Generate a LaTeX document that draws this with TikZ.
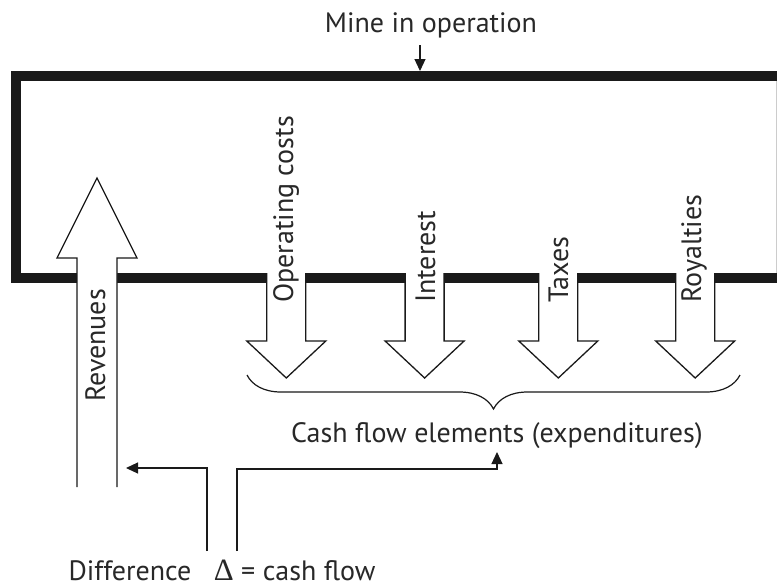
\documentclass[tikz,border=0pt]{standalone}
\usepackage{fontspec}
\setmainfont{PT Sans}
\newfontfamily\deltafont{Liberation Serif}
\usepackage{tikz}
\usetikzlibrary{arrows.meta}
\usetikzlibrary{decorations.pathreplacing}
\usepackage{xcolor}
\definecolor{ColInk}{RGB}{26,26,26}
\definecolor{ColText}{RGB}{40,40,40}
\tikzstyle{LabelText}=[inner sep=0pt,text=ColText,font=\fontsize{28}{31}\selectfont]
\tikzstyle{UpLabel}=[LabelText,rotate=90,anchor=base west]
\tikzstyle{WallLine}=[ColInk,line width=10pt,line join=miter]
\tikzstyle{BlockArrow}=[draw=ColInk,fill=white,line width=1.3pt,line join=miter]
\tikzstyle{ThinArrow}=[ColInk,line width=1.2pt,-{Triangle[length=12pt,width=11pt]}]
\tikzstyle{BraceLine}=[ColInk,line width=1.2pt,decorate,decoration={brace,mirror,amplitude=34pt}]

\begin{document}
\begin{tikzpicture}[x=1pt,y=-1pt]
        \useasboundingbox[fill=white](0,0)rectangle(777,587);
        \draw[WallLine](777,76)--(16,76)--(16,278)--(777,278);
        \draw[gray!40,line width=0.8pt](776.6,81)--(776.6,273);
        \path[BlockArrow](77,487)--(77,258)--(57,258)--(97,178)--(137,258)--(117,258)--(117,487);
        \foreach \cx in {286.3,424.6,558.3,695.2}
            \path[BlockArrow](\cx-19.5,273)--(\cx-19.5,341)--(\cx-39.5,341)--(\cx,378)--(\cx+39.5,341)--(\cx+19.5,341)--(\cx+19.5,273);
        \node[LabelText,anchor=base](mine)at(431,32){Mine in operation};
        \node[UpLabel](rev)at(105,402){Revenues};
        \node[UpLabel](opc)at(293,303){Operating costs};
        \node[UpLabel](int)at(435,303){Interest};
        \node[UpLabel](tax)at(568,303){Taxes};
        \node[UpLabel](roy)at(701,303){Royalties};
        \node[LabelText,anchor=base](cash)at(497,442){Cash flow elements (expenditures)};
        \node[LabelText,anchor=base](diff)at(222,580){Difference\hspace{0.8em}{\deltafont\fontsize{31}{31}\selectfont Δ} = cash flow};
        \coordinate(MineIn)at(420,71);
        \coordinate(RevIn)at(126,468);
        \coordinate(BraceL)at(247,375);
        \coordinate(BraceR)at(740,375);
        \draw[BraceLine](BraceL)--(BraceR);
        \draw[ThinArrow]([shift={(-11,13)}]mine.base)--(MineIn);
        \draw[ThinArrow]([shift={(-15,-29)}]diff.base)|-(RevIn);
        \draw[ThinArrow]([shift={(15,-29)}]diff.base)|-([shift={(0,27)}]cash.base)--([shift={(0,10)}]cash.base);
    \end{tikzpicture}
\end{document}
